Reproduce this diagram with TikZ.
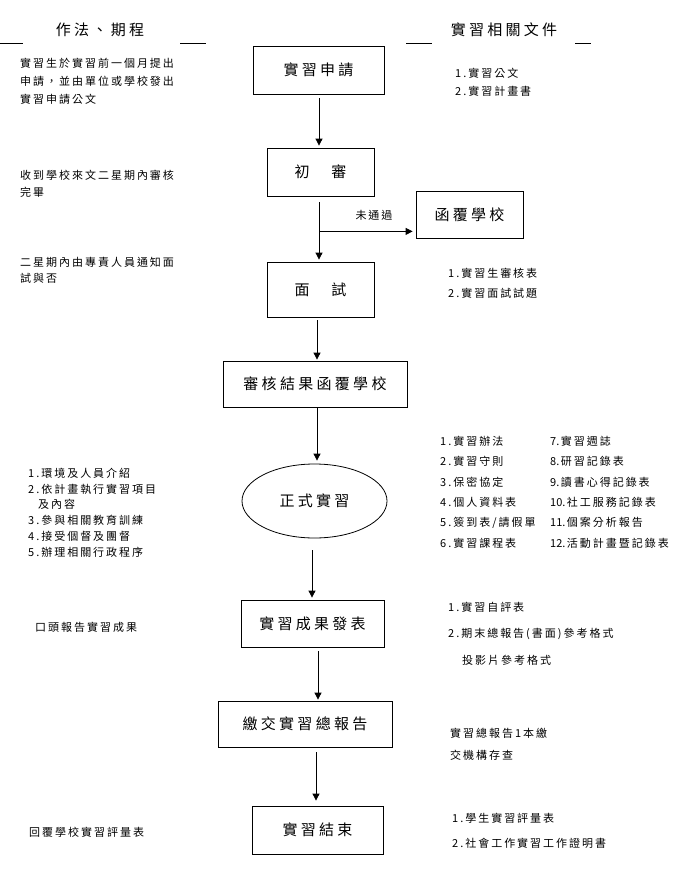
\documentclass[tikz,border=0pt]{standalone}
\usepackage{fontspec}
\newfontfamily\cjkbig[LetterSpace=22]{Noto Sans CJK TC}
\newfontfamily\cjksmall[LetterSpace=18]{Noto Sans CJK TC}
\newfontfamily\cjkplain{Noto Sans CJK TC}
\newcommand\boxfont{\cjkbig\fontsize{15}{18}\selectfont}
\newcommand\notefont[1]{\cjksmall\fontsize{11}{#1}\selectfont}
\newcommand\nm[1]{{\cjkplain #1}\hspace{1.5pt}}
\usetikzlibrary{arrows.meta,shapes.geometric,calc}
\begin{document}
\begin{tikzpicture}[x=1pt,y=-1pt,
  box/.style={draw,line width=0.8pt,inner sep=0pt,font=\boxfont},
  arr/.style={line width=0.8pt,-{Triangle[length=7pt,width=7pt]}},
  rule/.style={line width=0.8pt},
  note/.style={inner sep=0pt,align=left,anchor=west},
  head/.style={inner sep=0pt,font=\boxfont}]
\useasboundingbox[fill=white] (0,0) rectangle (686,880);
% headers
\node[head] (h1) at (100,30) {作法、期程};
\node[head] (h2) at (504,30) {實習相關文件};
\draw[rule] (0,43) -- (23,43);
\draw[rule] (180,43) -- (206,43);
\draw[rule] (406,43) -- (432,43);
\draw[rule] (575,43) -- (591,43);
% flow boxes
\node[box,minimum width=131pt,minimum height=48pt] (b1) at (318.5,70) {實習申請};
\node[box,minimum width=107pt,minimum height=48pt] (b2) at (320.5,172) {初　審};
\node[box,minimum width=107pt,minimum height=47pt] (b3) at (469.5,214.5) {函覆學校};
\node[box,minimum width=107pt,minimum height=55pt] (b4) at (320.5,289.5) {面　試};
\node[box,minimum width=184pt,minimum height=46pt] (b5) at (315,384) {審核結果函覆學校};
\node[box,ellipse,minimum width=145pt,minimum height=74pt] (e) at (314.5,501) {正式實習};
\node[box,minimum width=143pt,minimum height=47pt] (b6) at (312.5,623.5) {實習成果發表};
\node[box,minimum width=174pt,minimum height=46pt] (b7) at (305,724) {繳交實習總報告};
\node[box,minimum width=131pt,minimum height=48pt] (b8) at (317.5,830) {實習結束};
% connectors
\draw[arr] ($(b1.south)+(0.5,4)$) -- ($(b1.south |- b2.north)+(0.5,-2)$);
\draw[arr] ($(b2.south)+(-1.5,6)$) -- ($(b4.north)+(-1.5,-2)$);
\coordinate (br) at ($(b2.south)+(-1.5,35)$);
\draw[arr] (br) -- ($(br -| b3.west)+(-3,0)$);
\node[inner sep=0pt,font=\notefont{13}] (fail) at (374,215) {未通過};
\draw[arr] ($(b4.south)+(-3.5,3)$) -- ($(b4.south |- b5.north)+(-3.5,-1)$);
\draw[arr] ($(b5.south)+(2,0)$) -- ($(b5.south |- e.north)+(2,-3)$);
\draw[arr] ($(e.south)+(-2.5,12)$) -- ($(e.south |- b6.north)+(-2.5,-2)$);
\draw[arr] ($(b6.south)+(5.5,4)$) -- ($(b6.south |- b7.north)+(5.5,-1)$);
\draw[arr] ($(b8.north |- b7.south)+(-1.5,5)$) -- ($(b8.north)+(-1.5,-5)$);
% left notes
\node[note,font=\notefont{18}] (l1) at (20,81) {實習生於實習前一個月提出\\申請，並由單位或學校發出\\實習申請公文};
\node[note,font=\notefont{17}] (l2) at (20,183.5) {收到學校來文二星期內審核\\完畢};
\node[note,font=\notefont{16}] (l3) at (20,270.5) {二星期內由專責人員通知面\\試與否};
\node[note,font=\notefont{15.8}] (l4) at (28,512.5) {1.環境及人員介紹\\2.依計畫執行實習項目\\\hspace*{10pt}及內容\\3.參與相關教育訓練\\4.接受個督及團督\\5.辦理相關行政程序};
\node[note,font=\notefont{13}] (l5) at (35,627) {口頭報告實習成果};
\node[note,font=\notefont{13}] (l6) at (29,832) {回覆學校實習評量表};
% right notes
\node[note,font=\notefont{18}] (r1) at (455,82) {1.實習公文\\2.實習計畫書};
\node[note,font=\notefont{20}] (r2) at (448,283) {1.實習生審核表\\2.實習面試試題};
\node[note,font=\notefont{20.4}] (r3) at (440,492) {1.實習辦法\\2.實習守則\\3.保密協定\\4.個人資料表\\5.簽到表/請假單\\6.實習課程表};
\node[note,font=\notefont{20.4}] (r4) at (550,492) {\nm{7.}實習週誌\\\nm{8.}研習記錄表\\\nm{9.}讀書心得記錄表\\\nm{10.}社工服務記錄表\\\nm{11.}個案分析報告\\\nm{12.}活動計畫暨記錄表};
\node[note,font=\notefont{26.5}] (r5) at (448,633.5) {1.實習自評表\\2.期末總報告(書面)參考格式\\\hspace*{14pt}投影片參考格式};
\node[note,font=\notefont{22}] (r6) at (450,744) {實習總報告1本繳\\交機構存查};
\node[note,font=\notefont{25}] (r7) at (452,830.5) {1.學生實習評量表\\2.社會工作實習工作證明書};
\end{tikzpicture}
\end{document}
